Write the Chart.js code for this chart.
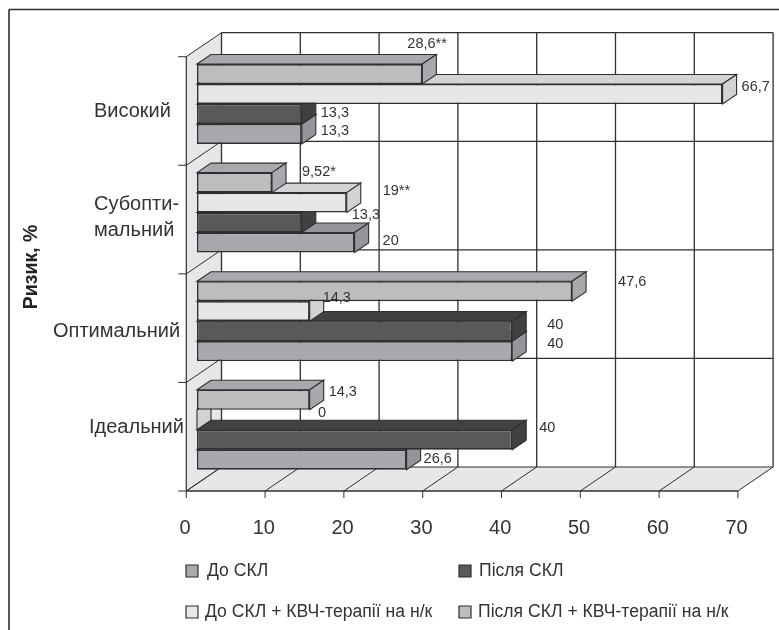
<!DOCTYPE html>
<html>
<head>
<meta charset="utf-8">
<style>
  body { margin: 0; background: #fff; }
  canvas { display: block; }
</style>
<script src="https://cdn.jsdelivr.net/npm/chart.js@4"></script>
</head>
<body>
<canvas id="riskChart" width="779" height="630"></canvas>
<script>
const categories = ["Високий", "Субопти-\nмальний", "Оптимальний", "Ідеальний"];
const xTicks = [0, 10, 20, 30, 40, 50, 60, 70];

const doSkl = [13.3, 20, 40, 26.6];
const pislyaSkl = [13.3, 13.3, 40, 40];
const doSklKvch = [66.7, 19, 14.3, 0];
const pislyaSklKvch = [28.6, 9.52, 47.6, 14.3];

const doSklText = ["13,3", "20", "40", "26,6"];
const pislyaSklText = ["13,3", "13,3", "40", "40"];
const doSklKvchText = ["66,7", "19**", "14,3", "0"];
const pislyaSklKvchText = ["28,6**", "9,52*", "47,6", "14,3"];

// hand placed in the original, so each label has its own offset from the bar end
const doSklNudge = [[19, -3], [28, -2], [35, -7], [17, -1]];
const pislyaSklNudge = [[19, -1], [50, -8], [35, -6], [27, -12]];
const doSklKvchNudge = [[19, -7], [36, -12], [13, -13], [121, -7]];
const pislyaSklKvchNudge = [[-15, -30], [30, -11], [46, -9], [19, -8]];

const catNudge = [[94, 7], [94, -8], [53, 10], [89, -2]];

const font = '"Liberation Sans", Arial, sans-serif';
const ink = "#2f2f31";
const wall = "#e6e7e8";

// first dataset is the top bar of each group and is painted last
const series = [
  { label: "Після СКЛ + КВЧ-терапії на н/к", data: pislyaSklKvch, text: pislyaSklKvchText, nudge: pislyaSklKvchNudge, front: "#bbbdbf", shade: "#a7a9ac" },
  { label: "До СКЛ + КВЧ-терапії на н/к", data: doSklKvch, text: doSklKvchText, nudge: doSklKvchNudge, front: "#e6e7e8", shade: "#d1d3d4" },
  { label: "Після СКЛ", data: pislyaSkl, text: pislyaSklText, nudge: pislyaSklNudge, front: "#58595b", shade: "#414042" },
  { label: "До СКЛ", data: doSkl, text: doSklText, nudge: doSklNudge, front: "#a7a9ac", shade: "#939598" }
];

function poly(ctx, pts, fill, stroke, width) {
  ctx.beginPath();
  pts.forEach((p, i) => (i ? ctx.lineTo(p[0], p[1]) : ctx.moveTo(p[0], p[1])));
  ctx.closePath();
  if (fill) { ctx.fillStyle = fill; ctx.fill(); }
  if (stroke) { ctx.strokeStyle = stroke; ctx.lineWidth = width; ctx.stroke(); }
}

function line(ctx, x1, y1, x2, y2, width) {
  ctx.beginPath();
  ctx.moveTo(x1, y1);
  ctx.lineTo(x2, y2);
  ctx.strokeStyle = ink;
  ctx.lineWidth = width;
  ctx.stroke();
}

// the bars stand a bit inside the box, so the box is shifted from the scales
const front = { x: -10.7, y: 7 };
const back = { x: 24.5, y: -17 };
const barDepth = { x: 14, y: -9.5 };

const boxPlugin = {
  id: "box",
  beforeDatasetsDraw(chart) {
    const ctx = chart.ctx;
    const sx = chart.scales.x;
    const sy = chart.scales.y;
    const x0 = sx.getPixelForValue(0);
    const x1 = sx.getPixelForValue(70);
    const edges = categories.map((c, i) => sy.getPixelForValue(i - 0.5));
    edges.push(sy.getPixelForValue(categories.length - 0.5));
    const top = edges[0];
    const bottom = edges[edges.length - 1];

    // outer frame
    line(ctx, 9, 9.5, 779, 9.5, 1.6);
    line(ctx, 9, 9.5, 9, 630, 1.6);

    // left wall and floor
    poly(ctx, [[x0 + front.x, top + front.y], [x0 + back.x, top + back.y], [x0 + back.x, bottom + back.y], [x0 + front.x, bottom + front.y]], wall);
    poly(ctx, [[x0 + front.x, bottom + front.y], [x0 + back.x, bottom + back.y], [x1 + back.x, bottom + back.y], [x1 + front.x, bottom + front.y]], wall);

    // back wall grid
    xTicks.forEach(v => {
      const x = sx.getPixelForValue(v) + back.x;
      line(ctx, x, top + back.y, x, bottom + back.y, 1.3);
    });
    edges.forEach(y => line(ctx, x0 + back.x, y + back.y, x1 + back.x, y + back.y, 1.2));

    // floor lines and x tick marks
    xTicks.forEach(v => {
      const x = sx.getPixelForValue(v);
      line(ctx, x + front.x, bottom + front.y, x + back.x, bottom + back.y, 1);
      line(ctx, x + front.x, bottom + front.y, x + front.x, bottom + front.y + 7, 1);
    });

    // left wall lines and y tick marks
    edges.forEach(y => {
      line(ctx, x0 + front.x, y + front.y, x0 + back.x, y + back.y, 1);
      line(ctx, x0 + front.x - 8, y + front.y, x0 + front.x, y + front.y, 1);
    });

    line(ctx, x0 + front.x, top + front.y, x0 + front.x, bottom + front.y, 1.2);
    line(ctx, x0 + front.x, bottom + front.y, x1 + front.x, bottom + front.y, 1.3);
  },
  beforeDatasetDraw(chart, args) {
    const ctx = chart.ctx;
    const s = series[args.index];
    args.meta.data.forEach(bar => {
      const left = bar.base;
      const right = bar.x;
      const top = bar.y - bar.height / 2;
      const bot = bar.y + bar.height / 2;
      poly(ctx, [[left, top], [left + barDepth.x, top + barDepth.y], [right + barDepth.x, top + barDepth.y], [right, top]], s.shade, ink, 1.1);
      poly(ctx, [[right, top], [right + barDepth.x, top + barDepth.y], [right + barDepth.x, bot + barDepth.y], [right, bot]], s.shade, ink, 1.1);
    });
  },
  afterDatasetsDraw(chart) {
    const ctx = chart.ctx;
    const sx = chart.scales.x;
    const sy = chart.scales.y;
    ctx.textBaseline = "middle";
    ctx.textAlign = "left";

    // value labels
    ctx.fillStyle = "#333335";
    ctx.font = "14.5px " + font;
    series.forEach((s, d) => {
      chart.getDatasetMeta(d).data.forEach((bar, i) => {
        ctx.fillText(s.text[i], bar.x + s.nudge[i][0], bar.y + s.nudge[i][1]);
      });
    });

    // category labels
    ctx.font = "20px " + font;
    categories.forEach((c, i) => {
      c.split("\n").forEach((row, r) => {
        ctx.fillText(row, catNudge[i][0], sy.getPixelForValue(i) + catNudge[i][1] + r * 26);
      });
    });

    // legend, two by two, До СКЛ first
    const legend = [
      [series[3], sx.getPixelForValue(0) - 11, 207, 571],
      [series[2], 459, 479, 571],
      [series[1], sx.getPixelForValue(0) - 11, 205, 612],
      [series[0], 459, 478, 612]
    ];
    ctx.font = "17.6px " + font;
    legend.forEach(([s, bx, tx, y]) => {
      poly(ctx, [[bx, y - 6], [bx + 12, y - 6], [bx + 12, y + 6], [bx, y + 6]], s.front, ink, 1.2);
      ctx.fillStyle = "#333335";
      ctx.fillText(s.label, tx, y);
    });
  }
};

new Chart(document.getElementById("riskChart"), {
  type: "bar",
  data: {
    labels: categories,
    datasets: series.map(s => ({
      label: s.label,
      data: s.data,
      backgroundColor: s.front,
      borderColor: ink,
      borderWidth: 1.6,
      borderSkipped: false,
      barPercentage: 1,
      categoryPercentage: 0.736,
      clip: false
    }))
  },
  options: {
    indexAxis: "y",
    responsive: false,
    animation: false,
    layout: { padding: { top: 49.7, right: 30.4, bottom: 0, left: 0 } },
    plugins: {
      legend: { display: false },
      tooltip: { enabled: false }
    },
    scales: {
      x: {
        min: 0,
        max: 70,
        // tickLength only pushes the labels down, the marks are drawn with the box
        grid: { display: false, drawTicks: true, tickLength: 29 },
        border: { display: false },
        afterFit: s => { s.height = 146; },
        ticks: {
          stepSize: 10,
          maxRotation: 0,
          labelOffset: -12,
          padding: 3,
          color: "#333335",
          font: { family: font, size: 20 }
        }
      },
      y: {
        grid: { display: false, drawTicks: false },
        border: { display: false },
        afterFit: s => { s.width = 197; },
        ticks: { display: false },
        title: {
          display: true,
          text: "Ризик, %",
          color: "#222",
          padding: { top: 20, bottom: 0 },
          font: { family: font, size: 19.5, weight: "bold" }
        }
      }
    }
  },
  plugins: [boxPlugin]
});
</script>
</body>
</html>
